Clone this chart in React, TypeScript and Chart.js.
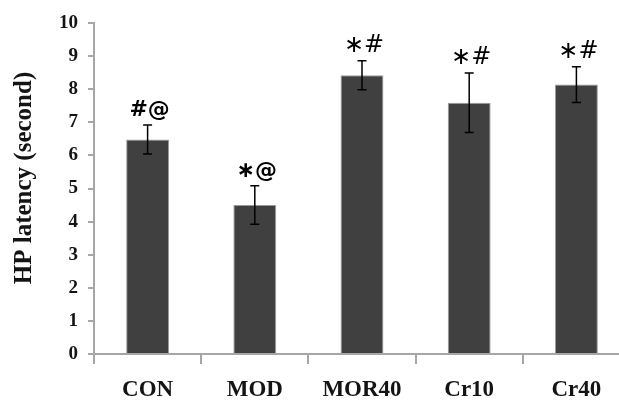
import React, { useEffect, useRef } from "react";
import { Chart, registerables } from "chart.js";

Chart.register(...registerables);

const categories = ["CON", "MOD", "MOR40", "Cr10", "Cr40"];
const means = [6.48, 4.5, 8.42, 7.59, 8.14];
const errors = [0.44, 0.58, 0.44, 0.9, 0.54];
const marks = ["#@", "\u2217@", "\u2217#", "\u2217#", "\u2217#"];
const yTitle = "HP latency (second)";

const AXIS_GRAY = "#a6a6a6";
const TEXT = "#141414";

const overlay = {
  id: "overlay",
  afterDatasetsDraw(chart: any) {
    const { ctx, scales } = chart;
    const x = scales.x;
    const y = scales.y;
    ctx.save();
    // error bars
    ctx.strokeStyle = "#000";
    ctx.lineWidth = 1.5;
    means.forEach((m, i) => {
      const px = x.getPixelForValue(i);
      const top = y.getPixelForValue(m + errors[i]);
      const bot = y.getPixelForValue(m - errors[i]);
      ctx.beginPath();
      ctx.moveTo(px, top);
      ctx.lineTo(px, bot);
      ctx.moveTo(px - 4.5, top);
      ctx.lineTo(px + 4.5, top);
      ctx.moveTo(px - 4.5, bot);
      ctx.lineTo(px + 4.5, bot);
      ctx.stroke();
    });
    // significance marks
    ctx.fillStyle = "#000";
    ctx.textAlign = "center";
    ctx.textBaseline = "alphabetic";
    marks.forEach((t, i) => {
      const px = x.getPixelForValue(i);
      const top = y.getPixelForValue(means[i] + errors[i]);
      ctx.font = i < 2 ? 'bold 22px "DejaVu Sans"' : '24px "DejaVu Sans"';
      ctx.fillText(t, px + 2, top - 9);
    });
    // y-axis title
    ctx.translate(25, 178);
    ctx.rotate(-Math.PI / 2);
    ctx.font = 'bold 25px "Liberation Serif"';
    ctx.fillStyle = TEXT;
    ctx.textAlign = "center";
    ctx.textBaseline = "middle";
    ctx.fillText(yTitle, 0, 0);
    ctx.restore();
  },
};

export default function App() {
  const ref = useRef<HTMLCanvasElement>(null);
  useEffect(() => {
    if (!ref.current) return;
    const chart = new Chart(ref.current, {
      type: "bar",
      data: {
        labels: categories,
        datasets: [
          {
            data: means,
            backgroundColor: "#404040",
            borderColor: "#9a9a9a",
            borderWidth: 1,
            barPercentage: 0.4,
            categoryPercentage: 1,
          },
        ],
      },
      options: {
        responsive: false,
        animation: false,
        devicePixelRatio: 1,
        layout: { padding: { top: 23, right: 10, left: 0, bottom: 0 } },
        plugins: {
          legend: { display: false },
          tooltip: { enabled: false },
        },
        scales: {
          x: {
            afterFit: (s: any) => {
              s.height = 47;
            },
            grid: {
              offset: true,
              drawOnChartArea: false,
              drawTicks: true,
              tickLength: 10,
              color: AXIS_GRAY,
              lineWidth: 2,
            },
            border: { display: true, color: AXIS_GRAY, width: 2 },
            ticks: {
              padding: 12,
              color: TEXT,
              font: { family: "Liberation Serif", weight: "bold", size: 23 },
              maxRotation: 0,
            },
          },
          y: {
            min: 0,
            max: 10,
            afterFit: (s: any) => {
              s.width = 94;
            },
            grid: {
              drawOnChartArea: false,
              drawTicks: true,
              tickLength: 6,
              color: AXIS_GRAY,
              lineWidth: 2,
            },
            border: { display: true, color: AXIS_GRAY, width: 2 },
            ticks: {
              stepSize: 1,
              padding: 10,
              color: TEXT,
              font: { family: "Liberation Serif", weight: "bold", size: 19 },
            },
          },
        },
      },
      plugins: [overlay],
    });
    return () => chart.destroy();
  }, []);
  return (
    <div
      style={{
        position: "absolute",
        left: 0,
        top: 0,
        width: 619,
        height: 401,
        overflow: "hidden",
        background: "#fff",
      }}
    >
      <canvas ref={ref} width={640} height={401} style={{ display: "block" }} />
    </div>
  );
}
